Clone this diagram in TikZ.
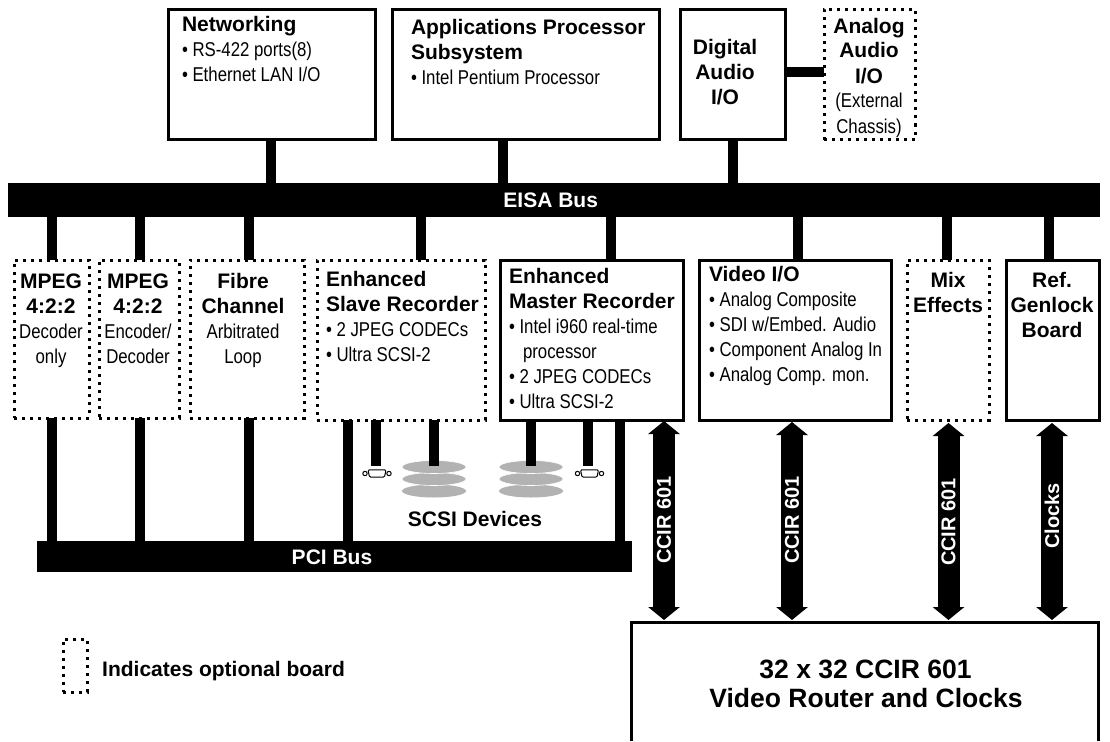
\documentclass[tikz,border=0pt]{standalone}
\usepackage{fontspec}
\usetikzlibrary{arrows.meta,shapes.geometric}
\setmainfont{Liberation Sans}
\newfontfamily\bodyfam[FakeStretch=0.84]{Liberation Sans}
\newcommand{\Tl}[1]{{\fontsize{21}{24}\selectfont\bfseries\strut #1}}
\newcommand{\Bd}[1]{{\fontsize{20}{24}\selectfont\bodyfam\strut #1}}
\newcommand{\Bu}{\textbullet\ }
\definecolor{diskgray}{HTML}{B2B2B2}
\tikzset{
  solidbox/.style={draw=black,line width=3pt,fill=white,inner sep=0pt,outer sep=0pt,anchor=north west},
  dotbox/.style={draw=black,line width=3pt,dash pattern=on 3pt off 5pt,inner sep=0pt,outer sep=0pt,anchor=north west},
  bus/.style={fill=black,inner sep=0pt,outer sep=0pt,anchor=north west},
  stub/.style={line width=10.6pt,draw=black},
  sig/.style={line width=22pt,draw=black,{Triangle[length=13pt,width=31pt]}-{Triangle[length=13pt,width=31pt]},shorten <=0pt,shorten >=0pt},
  lbl/.style={inner sep=0pt,outer sep=0pt,align=left,anchor=north west},
  clbl/.style={inner sep=0pt,outer sep=0pt,align=center,anchor=north},
  bustext/.style={inner sep=0pt,text=white,font=\fontsize{20}{24}\selectfont\bfseries},
  disk/.style={ellipse,fill=diskgray,minimum width=64pt,minimum height=13pt,inner sep=0pt,outer sep=0pt},
  dsub/.pic={
    \draw[line width=1pt,fill=white,rounded corners=1.2pt] (-9,-3.6) -- (9,-3.6) -- (7.5,3.6) -- (-7.5,3.6) -- cycle;
    \draw[line width=1pt,fill=white] (-12,0) circle (2.2) (12,0) circle (2.2);
  }
}
\begin{document}
\begin{tikzpicture}[x=1pt,y=-1pt]
\fill[white] (0,0) rectangle (1110,741);
\useasboundingbox (0,0) rectangle (1110,741);
% top boxes
\node[solidbox,minimum width=207pt,minimum height=130pt] (net) at (168,9.5) {};
\node[solidbox,minimum width=267pt,minimum height=130pt] (app) at (392,9.5) {};
\node[solidbox,minimum width=105pt,minimum height=130pt] (dig) at (680,9.5) {};
\node[dotbox,minimum width=91pt,minimum height=130pt] (ana) at (824,9.5) {};
% buses
\node[bus,minimum width=1092pt,minimum height=34pt] (eisa) at (8,183) {};
\node[bus,minimum width=595pt,minimum height=31pt] (pci) at (37,541) {};
% lower boxes
\node[dotbox,minimum width=75pt,minimum height=158pt] (mpa) at (14,260) {};
\node[dotbox,minimum width=80pt,minimum height=158pt] (mpb) at (99,260) {};
\node[dotbox,minimum width=114pt,minimum height=158pt] (fib) at (190,260) {};
\node[dotbox,minimum width=168pt,minimum height=160pt] (slv) at (317,260) {};
\node[solidbox,minimum width=183pt,minimum height=160pt] (mst) at (500,260) {};
\node[solidbox,minimum width=192pt,minimum height=160pt] (vid) at (699,260) {};
\node[dotbox,minimum width=82pt,minimum height=160pt] (mix) at (907,260) {};
\node[solidbox,minimum width=93pt,minimum height=160pt] (ref) at (1006,260) {};
% router: open at the bottom of the page
\node[inner sep=0pt,outer sep=0pt,anchor=north west,minimum width=467pt,minimum height=119pt] (rtr) at (631,622) {};
\draw[line width=3pt] (rtr.south west) -- (rtr.north west) -- (rtr.north east) -- (rtr.south east);
% legend
\node[dotbox,minimum width=24pt,minimum height=53pt] (leg) at (63,639) {};
% disks
\foreach \n/\x in {a/434,b/531}{
  \node[disk] (\n3) at (\x,491) {};
  \node[disk,draw=white,line width=.6pt] (\n2) at (\x,479) {};
  \node[disk,draw=white,line width=.6pt] (\n1) at (\x,467) {};
}
\coordinate (da) at (434,466);
\coordinate (db) at (531,466);
\coordinate (ca) at (376,466);
\coordinate (cb) at (588,466);
\pic at (377,473.5) {dsub};
\pic at (589.5,473.5) {dsub};
% stubs
\draw[stub] (dig.east |- 0,72) -- (ana.west |- 0,72);
\foreach \x/\n in {271/net,503/app,733/dig}{
  \draw[stub] (\x,0 |- \n.south) -- (\x,0 |- eisa.north);
}
\foreach \x/\n in {52/mpa,140/mpb,249/fib,421/slv,611/mst,798/vid,947/mix,1049/ref}{
  \draw[stub] (\x,0 |- eisa.south) -- (\x,0 |- \n.north);
}
\foreach \x/\n in {52/mpa,140/mpb,249/fib,348/slv,620/mst}{
  \draw[stub] (\x,0 |- \n.south) -- (\x,0 |- pci.north);
}
\draw[stub] (ca |- slv.south) -- (ca);
\draw[stub] (da |- slv.south) -- (da);
\draw[stub] (db |- mst.south) -- (db);
\draw[stub] (cb |- mst.south) -- (cb);
% bidirectional signals
\coordinate (s1a) at (664,421); \coordinate (s1b) at (664,620);
\coordinate (s2a) at (792,422); \coordinate (s2b) at (792,620);
\coordinate (s3a) at (948.5,423); \coordinate (s3b) at (948.5,620);
\coordinate (s4a) at (1052,423); \coordinate (s4b) at (1052,620);
\draw[sig] (s1a) -- (s1b);
\draw[sig] (s2a) -- (s2b);
\draw[sig] (s3a) -- (s3b);
\draw[sig] (s4a) -- (s4b);
\node[bustext,rotate=90] (l1) at (664,520) {CCIR 601};
\node[bustext,rotate=90] (l2) at (792,520) {CCIR 601};
\node[bustext,rotate=90] (l3) at (948.5,522) {CCIR 601};
\node[bustext,rotate=90] (l4) at (1052,516) {Clocks};
% bus labels
\node[bustext,anchor=base,font=\fontsize{21}{24}\selectfont\bfseries] (eisat) at (550.7,207) {EISA Bus};
\node[bustext,font=\fontsize{21}{24}\selectfont\bfseries] (pcit) at (332,557) {PCI Bus};
% box texts (y = first baseline - 16.8)
\node[lbl] (tnet) at (182,15.2) {\Tl{Networking}\\\Bd{\Bu RS-422 ports(8)}\\\Bd{\Bu Ethernet LAN I/O}};
\node[lbl] (tapp) at (411,18.2) {\Tl{Applications Processor}\\\Tl{Subsystem}\\\Bd{\Bu Intel Pentium Processor}};
\node[clbl] (tdig) at (725,38.2) {\Tl{Digital}\\\Tl{Audio}\\\Tl{I/O}};
\node[clbl] (tana) at (869,16.2) {\Tl{Analog}\\\Tl{Audio}\\\Tl{I/O}\\\Bd{(External}\\\Bd{Chassis)}};
\node[clbl] (tmpa) at (51,271.2) {\Tl{MPEG}\\\Tl{4:2:2}\\\Bd{Decoder}\\\Bd{only}};
\node[clbl] (tmpb) at (138,271.2) {\Tl{MPEG}\\\Tl{4:2:2}\\\Bd{Encoder/}\\\Bd{Decoder}};
\node[clbl] (tfib) at (243,271.2) {\Tl{Fibre}\\\Tl{Channel}\\\Bd{Arbitrated}\\\Bd{Loop}};
\node[lbl] (tslv) at (326,269.2) {\Tl{Enhanced}\\\Tl{Slave Recorder}\\\Bd{\Bu 2 JPEG CODECs}\\\Bd{\Bu Ultra SCSI-2}};
\node[lbl] (tmst) at (509,266.2) {\Tl{Enhanced}\\\Tl{Master Recorder}\\\Bd{\Bu Intel i960 real-time}\\\Bd{\hspace{14pt}processor}\\\Bd{\Bu 2 JPEG CODECs}\\\Bd{\Bu Ultra SCSI-2}};
\node[lbl] (tvid) at (709,264.2) {\Tl{Video I/O}\\\Bd{\Bu Analog Composite}\\\Bd{\Bu SDI w/Embed. Audio}\\\Bd{\Bu Component Analog In}\\\Bd{\Bu Analog Comp. mon.}};
\node[clbl] (tmix) at (948,270.2) {\Tl{Mix}\\\Tl{Effects}};
\node[clbl] (tref) at (1052,270.2) {\Tl{Ref.}\\\Tl{Genlock}\\\Tl{Board}};
% free texts
\node[inner sep=0pt,anchor=base,font=\fontsize{21}{24}\selectfont\bfseries] (tscsi) at (475,526) {SCSI Devices};
\node[inner sep=0pt,anchor=base west,font=\fontsize{21}{24}\selectfont\bfseries] (tleg) at (102,676) {Indicates optional board};
\node[inner sep=0pt,anchor=base,font=\fontsize{26.5}{29}\selectfont\bfseries] (trtr1) at (865.5,678) {32 x 32 CCIR 601};
\node[inner sep=0pt,anchor=base,font=\fontsize{26.5}{29}\selectfont\bfseries] (trtr2) at (866,707) {Video Router and Clocks};
\end{tikzpicture}
\end{document}
